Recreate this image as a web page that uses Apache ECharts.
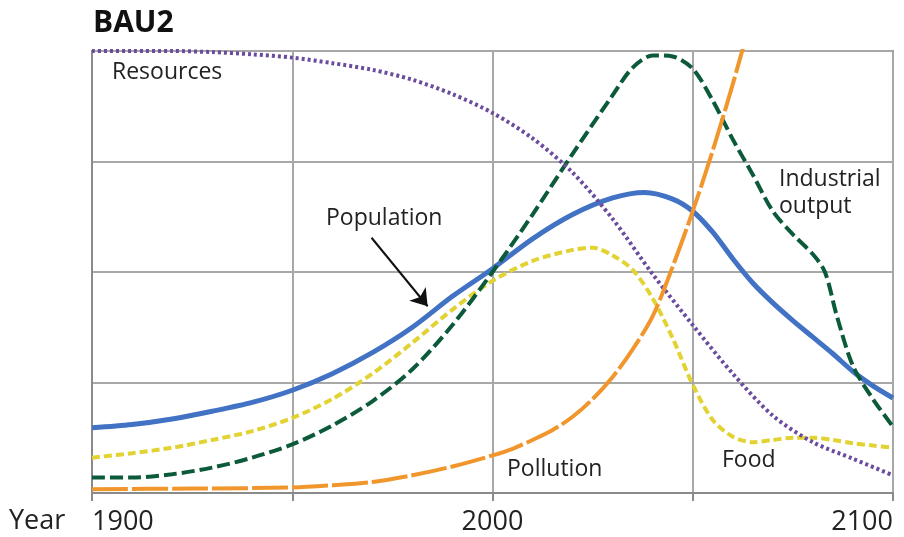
<!DOCTYPE html>
<html>
<head>
<meta charset="utf-8">
<script src="https://cdn.jsdelivr.net/npm/echarts@6/dist/echarts.min.js"></script>
<style>
html,body{margin:0;padding:0;background:#fff;}
#chart{width:904px;height:537px;}
</style>
</head>
<body>
<div id="chart"></div>
<script>
// ---- data ----
const title = 'BAU2';
const xTicks = [1900, 2000, 2100];

const popYears  = [1900,1910,1920,1930,1940,1950,1960,1970,1980,1990,2000,2010,2020,2030,2038,2045,2050,2055,2060,2065,2070,2075,2080,2085,2090,2095,2100];
const popValues = [0.59,0.62,0.67,0.74,0.82,0.93,1.08,1.27,1.50,1.78,2.03,2.30,2.52,2.67,2.72,2.66,2.55,2.36,2.12,1.90,1.72,1.56,1.41,1.26,1.10,0.97,0.86];

const indYears  = [1900,1910,1920,1930,1940,1950,1960,1970,1980,1990,2000,2010,2020,2030,2035,2040,2045,2050,2055,2060,2065,2070,2075,2080,2083,2086,2090,2095,2100];
const indValues = [0.14,0.14,0.17,0.23,0.32,0.44,0.61,0.83,1.12,1.52,2.00,2.52,3.07,3.60,3.85,3.96,3.95,3.84,3.55,3.20,2.88,2.55,2.34,2.16,2.00,1.60,1.15,0.85,0.60];

const foodYears  = [1900,1910,1920,1930,1940,1950,1960,1970,1980,1990,2000,2010,2020,2025,2030,2035,2040,2045,2050,2055,2060,2065,2070,2075,2080,2085,2090,2095,2100];
const foodValues = [0.32,0.36,0.41,0.48,0.56,0.68,0.85,1.08,1.36,1.66,1.92,2.10,2.20,2.22,2.15,2.02,1.76,1.40,0.98,0.66,0.51,0.46,0.48,0.50,0.50,0.48,0.45,0.43,0.41];

const polYears  = [1900,1925,1950,1960,1970,1980,1990,2000,2005,2010,2015,2020,2025,2030,2035,2040,2045,2050,2055,2060,2065];
const polValues = [0.035,0.04,0.05,0.07,0.10,0.16,0.24,0.34,0.40,0.48,0.57,0.69,0.85,1.05,1.30,1.60,2.05,2.55,3.10,3.70,4.35];

const resYears  = [1900,1910,1920,1930,1940,1950,1960,1970,1980,1990,2000,2010,2020,2030,2040,2050,2060,2070,2080,2090,2100];
const resValues = [4.00,4.00,4.00,3.99,3.97,3.94,3.89,3.83,3.74,3.61,3.44,3.21,2.90,2.48,1.98,1.52,1.08,0.70,0.46,0.31,0.16];

const arrowFrom = [1969.8, 2.31];
const arrowTo   = [1983.8, 1.69];

// ---- chart ----
const pair = (xs, ys) => xs.map((x, i) => [x, ys[i]]);
const FONT = '"Open Sans", "Liberation Sans", sans-serif';

const chart = echarts.init(document.getElementById('chart'), null, {renderer: 'canvas'});

function lineSeries(name, data, color, width, type, z) {
  return {
    name, type: 'line', data, z,
    showSymbol: false, symbol: 'none',
    smooth: 0.3, clip: true,
    lineStyle: {color, width, type, cap: 'butt'},
    emphasis: {disabled: true},
    silent: true
  };
}

const popSeries = lineSeries('Population', pair(popYears, popValues), '#4272c4', 5, 'solid', 3);
popSeries.markLine = {
  silent: true,
  symbol: ['none', 'arrow'],
  symbolSize: 16,
  label: {show: false},
  lineStyle: {color: '#111', width: 2, type: 'solid'},
  emphasis: {disabled: true},
  data: [[{coord: arrowFrom}, {coord: arrowTo}]]
};

chart.setOption({
  animation: false,
  backgroundColor: '#fff',
  grid: {left: 92, right: 11, top: 51, bottom: 44, show: true, borderColor: '#8a8a8a', borderWidth: 2},
  xAxis: {
    type: 'value', min: 1900, max: 2100, interval: 50,
    axisLine: {show: true, lineStyle: {color: '#8a8a8a', width: 2}},
    axisTick: {show: true, length: 8, lineStyle: {color: '#8a8a8a', width: 2}},
    splitLine: {show: true, lineStyle: {color: '#a8a8a8', width: 2}},
    axisLabel: {
      fontSize: 27, fontFamily: FONT, color: '#222', margin: 16,
      alignMinLabel: 'left', alignMaxLabel: 'right',
      formatter: v => xTicks.includes(v) ? String(v) : ''
    }
  },
  yAxis: {
    type: 'value', min: 0, max: 4, interval: 1,
    axisLine: {show: true, lineStyle: {color: '#8a8a8a', width: 2}},
    axisTick: {show: false},
    axisLabel: {show: false},
    splitLine: {show: true, lineStyle: {color: '#a8a8a8', width: 2}}
  },
  series: [
    popSeries,
    lineSeries('Food', pair(foodYears, foodValues), '#e2d232', 4, [8, 4], 4),
    lineSeries('Industrial output', pair(indYears, indValues), '#0b5a3a', 4, [13, 5], 5),
    lineSeries('Resources', pair(resYears, resValues), '#6a4c9f', 4, [3, 3], 6),
    lineSeries('Pollution', pair(polYears, polValues), '#f0962c', 4, [36, 4], 7)
  ],
  graphic: [
    {type: 'text', x: 93, y: 23, style: {text: title, font: 'bold 30px ' + FONT, fill: '#111', align: 'left', verticalAlign: 'middle'}},
    {type: 'text', x: 112, y: 72, style: {text: 'Resources', font: '23px ' + FONT, fill: '#222', align: 'left', verticalAlign: 'middle'}},
    {type: 'text', x: 326, y: 218, style: {text: 'Population', font: '23px ' + FONT, fill: '#222', align: 'left', verticalAlign: 'middle'}},
    {type: 'text', x: 779, y: 179, style: {text: 'Industrial', font: '23px ' + FONT, fill: '#222', align: 'left', verticalAlign: 'middle'}},
    {type: 'text', x: 779, y: 206, style: {text: 'output', font: '23px ' + FONT, fill: '#222', align: 'left', verticalAlign: 'middle'}},
    {type: 'text', x: 507, y: 469, style: {text: 'Pollution', font: '23px ' + FONT, fill: '#222', align: 'left', verticalAlign: 'middle'}},
    {type: 'text', x: 722, y: 460, style: {text: 'Food', font: '23px ' + FONT, fill: '#222', align: 'left', verticalAlign: 'middle'}},
    {type: 'text', x: 9, y: 521, style: {text: 'Year', font: '27px ' + FONT, fill: '#222', align: 'left', verticalAlign: 'middle'}}
  ]
});
</script>
</body>
</html>
